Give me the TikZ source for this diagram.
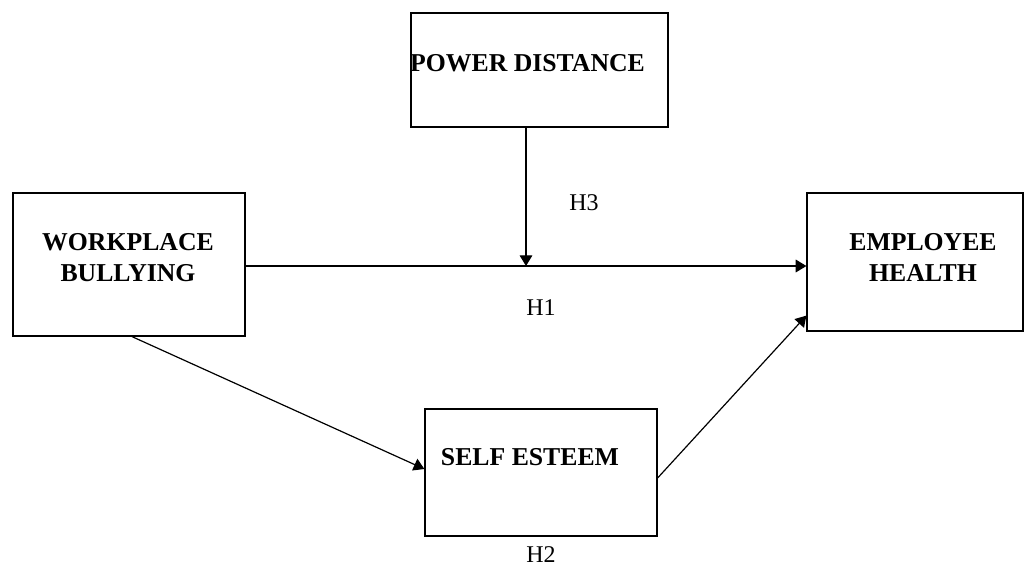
\documentclass[tikz,border=0pt]{standalone}
\usepackage{fontspec}
\setmainfont{Liberation Serif}
\usetikzlibrary{arrows.meta}

\begin{document}
\begin{tikzpicture}[
   x=0.75pt,y=-0.75pt,
   box/.style={draw,line width=0.9pt,inner sep=0pt},
   lbl/.style={font=\bfseries\fontsize{19.3}{23.2}\selectfont,align=center,inner sep=0pt},
   hyp/.style={font=\fontsize{18}{21}\selectfont,inner sep=0pt},
   to/.style={-{Triangle[length=8pt,width=9.5pt]},line width=0.9pt},
   every node/.style={anchor=center}]
\useasboundingbox (0,0) rectangle (1030,568);
% boxes
\node[box,minimum width=257*0.75pt,minimum height=114*0.75pt] (PD) at (539.5,70) {};
\node[box,minimum width=232*0.75pt,minimum height=143*0.75pt] (WB) at (129,264.5) {};
\node[box,minimum width=216*0.75pt,minimum height=138*0.75pt] (EH) at (915,262) {};
\node[box,minimum width=232*0.75pt,minimum height=127*0.75pt] (SE) at (541,472.5) {};
% box texts
\node[lbl] (PDtext) at (527.5,63) {POWER DISTANCE};
\node[lbl] (WBtext) at (128,257.5) {WORKPLACE\\BULLYING};
\node[lbl] (EHtext) at (923,257.5) {EMPLOYEE\\HEALTH};
\node[lbl] (SEtext) at (530,457) {SELF ESTEEM};
% connectors
\coordinate (meet) at (526,266);
\draw[to] (WB.east |- meet) -- (EH.west |- meet);
\draw[to] (PD.south -| meet) -- (meet);
\draw[to] ([xshift=3*0.75pt]WB.south) -- ([yshift=3.5*0.75pt]SE.west);
\draw[to] ([yshift=-5.5*0.75pt]SE.east) -- ([yshift=16*0.75pt]EH.south west);
% hypotheses
\node[hyp] (H3) at (584,203) {H3};
\node[hyp] (H1) at (541,308) {H1};
\node[hyp] (H2) at (541,555) {H2};
\end{tikzpicture}
\end{document}
